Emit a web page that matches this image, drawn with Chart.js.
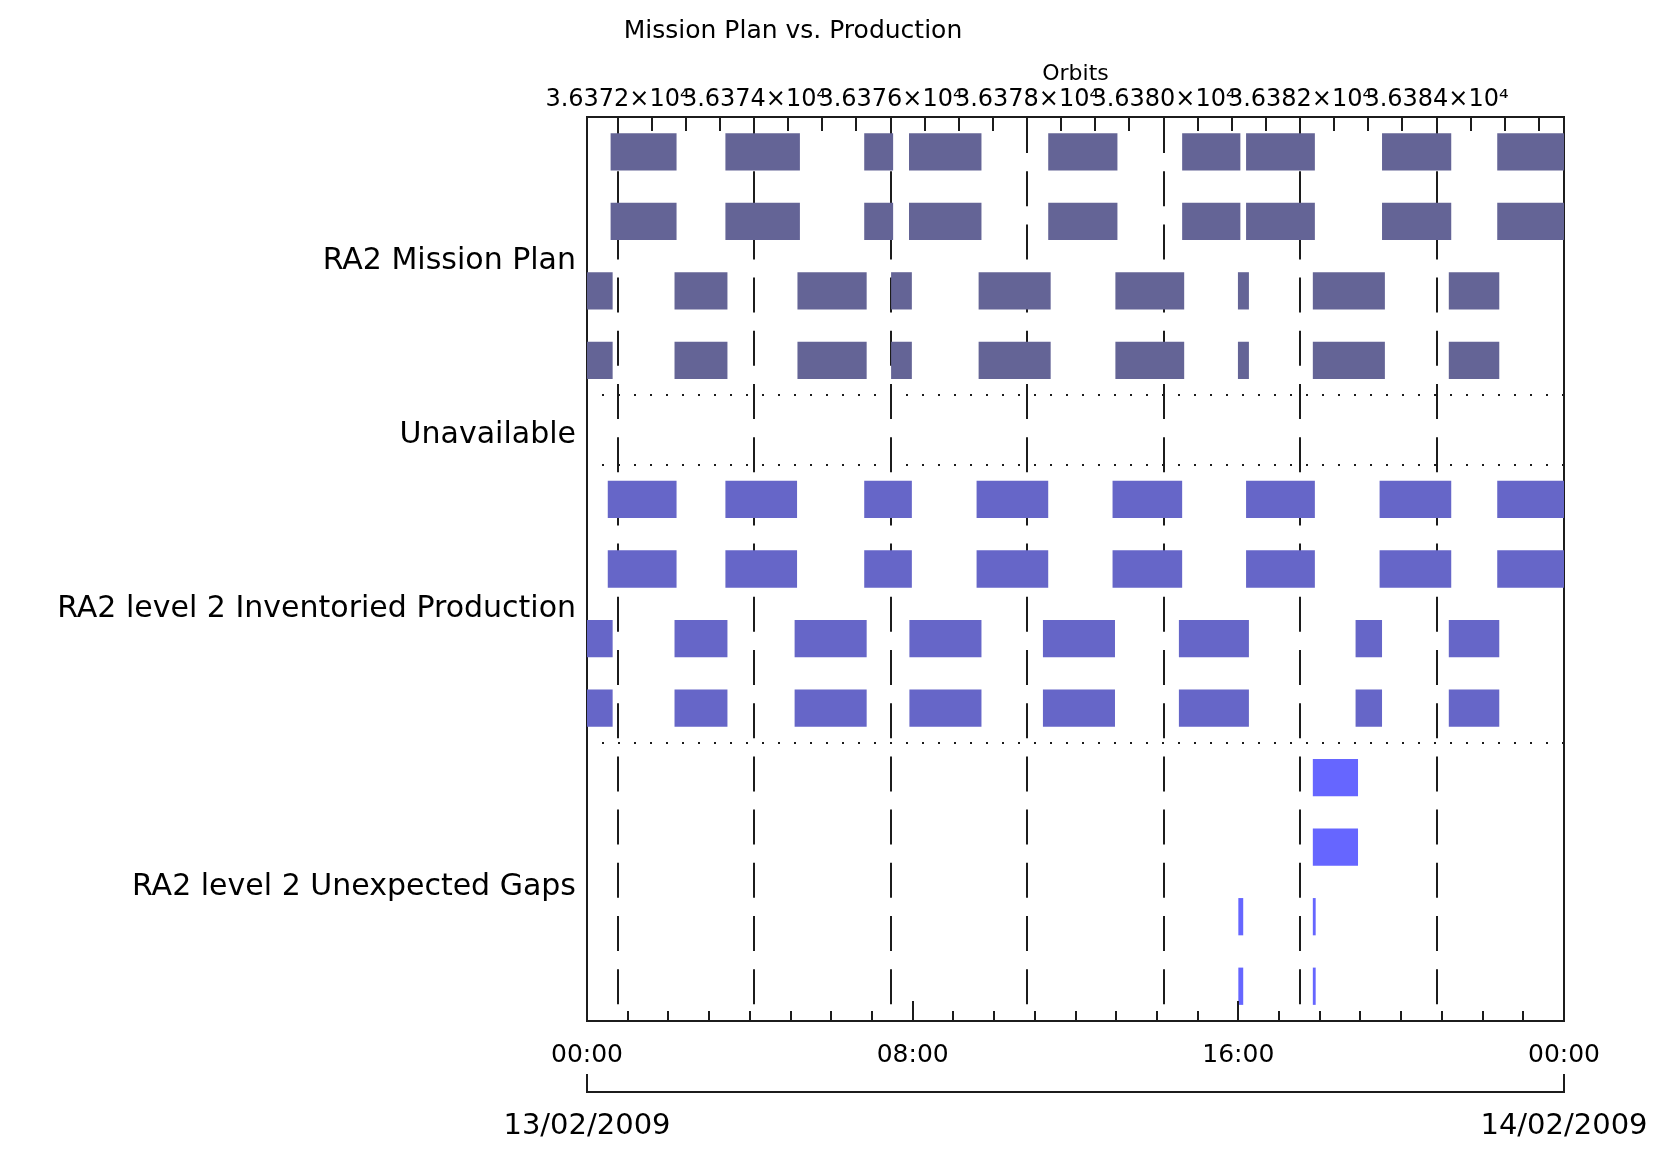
<!DOCTYPE html>
<html>
<head>
<meta charset="utf-8">
<script src="https://cdn.jsdelivr.net/npm/chart.js@4.4.1/dist/chart.umd.min.js"></script>
<style>
  html, body { margin: 0; padding: 0; background: #ffffff; }
  canvas { display: block; }
</style>
</head>
<body>
<canvas id="c" width="1669" height="1157"></canvas>
<script>
// ---------------- data (times in decimal hours of 13/02/2009) ----------------
const chartTitle = 'Mission Plan vs. Production';

const groupLabels    = ['RA2 Mission Plan', 'Unavailable', 'RA2 level 2 Inventoried Production', 'RA2 level 2 Unexpected Gaps'];
const groupLabelRows = [1.5, 4, 6.5, 10.5];
const separatorRows  = [3.5, 4.5, 8.5];

// segments [start, end] in hours
const planRowA = [[0.58, 2.20], [3.40, 5.23], [6.81, 7.52], [7.91, 9.69], [11.33, 13.03], [14.62, 16.05], [16.19, 17.88], [19.53, 21.23], [22.36, 24.00]];
const planRowB = [[-0.08, 0.63], [2.15, 3.45], [5.17, 6.87], [7.47, 7.98], [9.62, 11.39], [12.98, 14.67], [15.99, 16.26], [17.83, 19.60], [21.17, 22.41]];
const prodRowA = [[0.51, 2.20], [3.40, 5.16], [6.81, 7.98], [9.57, 11.33], [12.91, 14.62], [16.19, 17.88], [19.47, 21.23], [22.36, 24.00]];
const prodRowB = [[-0.08, 0.63], [2.15, 3.45], [5.10, 6.87], [7.92, 9.69], [11.20, 12.97], [14.54, 16.26], [18.88, 19.53], [21.17, 22.41]];
const gapRowA  = [[17.83, 18.94]];
const gapRowB  = [[16.00, 16.12], [17.83, 17.90]];

const planSeries = [planRowA, planRowA, planRowB, planRowB];
const planRowIdx = [0, 1, 2, 3];
const prodSeries = [prodRowA, prodRowA, prodRowB, prodRowB];
const prodRowIdx = [5, 6, 7, 8];
const gapSeries  = [gapRowA, gapRowA, gapRowB, gapRowB];
const gapRowIdx  = [9, 10, 11, 12];

// time axis
const timeMin = 0, timeMax = 24;
const timeLabelHours = [0, 8, 16, 24];
const timeTickLabels = ['00:00', '08:00', '16:00', '00:00'];
const dateTickHours  = [0, 24];
const dateLabels     = ['13/02/2009', '14/02/2009'];

// orbit axis
const orbitMin = 36371.553, orbitMax = 36385.868;
const orbitLabelValues = [36372, 36374, 36376, 36378, 36380, 36382, 36384];
const orbitTickLabels  = ['3.6372×10⁴', '3.6374×10⁴', '3.6376×10⁴', '3.6378×10⁴', '3.6380×10⁴', '3.6382×10⁴', '3.6384×10⁴'];

// ---------------- tick position lists ----------------
const timeTickHours = [];
for (let h = timeMin; h <= timeMax; h++) timeTickHours.push(h);
const orbitTickValues = [];
for (let o = 36372; o <= 36385.5; o += 0.5) orbitTickValues.push(o);
const rowTickValues = [];
for (let r = 0; r <= 12; r++) rowTickValues.push(r);
const labelAxisTicks = [...groupLabelRows, ...separatorRows].sort((a, b) => a - b);

const toPoints = (series, rowIdx) =>
  series.flatMap((segs, i) => segs.map(([s, e]) => ({ x: [s, e], y: rowIdx[i] })));

// ---------------- styling ----------------
const FONT = 'DejaVu Sans';
const INK = '#1c1c1c';
Chart.defaults.font.family = FONT;
Chart.defaults.color = '#000';

const inwardTicks = {
  id: 'inwardTicks',
  afterDatasetsDraw(chart) {
    const { ctx, chartArea: a, scales } = chart;
    ctx.save();
    ctx.setLineDash([]);
    ctx.strokeStyle = INK;
    ctx.lineWidth = 2;
    const seg = (x, y1, y2) => { ctx.beginPath(); ctx.moveTo(x, y1); ctx.lineTo(x, y2); ctx.stroke(); };
    const x2 = scales.x2;
    for (const v of orbitTickValues) {
      if (orbitLabelValues.includes(v)) continue;
      const px = Math.round(x2.getPixelForValue(v));
      seg(px, a.top, a.top + 14);
    }
    const x = scales.x;
    for (const v of timeTickHours) {
      const px = Math.round(x.getPixelForValue(v));
      seg(px, a.bottom, a.bottom - (timeLabelHours.includes(v) ? 20 : 10));
    }
    const x3 = scales.x3;
    for (const v of dateTickHours) {
      const px = Math.round(x3.getPixelForValue(v));
      seg(px, x3.top, x3.top - 18);
    }
    ctx.restore();
  }
};

const titleText = {
  id: 'titleText',
  afterDraw(chart) {
    const ctx = chart.ctx;
    ctx.save();
    ctx.font = '25px "' + FONT + '"';
    ctx.fillStyle = '#000';
    ctx.textAlign = 'center';
    ctx.textBaseline = 'middle';
    ctx.fillText(chartTitle, 793, 31);
    ctx.restore();
  }
};

const barCommon = { grouped: false, barPercentage: 0.67, categoryPercentage: 0.8, borderWidth: 0 };

new Chart(document.getElementById('c'), {
  type: 'bar',
  data: {
    datasets: [
      Object.assign({ label: groupLabels[0], data: toPoints(planSeries, planRowIdx), backgroundColor: '#646496' }, barCommon),
      Object.assign({ label: groupLabels[2], data: toPoints(prodSeries, prodRowIdx), backgroundColor: '#6666c8' }, barCommon),
      Object.assign({ label: groupLabels[3], data: toPoints(gapSeries, gapRowIdx), backgroundColor: '#6666ff' }, barCommon)
    ]
  },
  options: {
    responsive: false,
    animation: false,
    devicePixelRatio: 1,
    indexAxis: 'y',
    layout: { padding: 0 },
    plugins: { legend: { display: false }, tooltip: { enabled: false }, title: { display: false } },
    scales: {
      x: {
        type: 'linear', position: 'bottom', min: timeMin, max: timeMax, weight: 0, offset: false,
        afterBuildTicks: s => { s.ticks = timeTickHours.map(v => ({ value: v })); },
        afterFit: s => { s.height = 71; },
        ticks: {
          autoSkip: false, maxRotation: 0, minRotation: 0, padding: 19, font: { size: 25 },
          callback: v => { const i = timeLabelHours.indexOf(v); return i >= 0 ? timeTickLabels[i] : ''; }
        },
        grid: { drawOnChartArea: false, drawTicks: false, offset: false },
        border: { display: true, color: INK, width: 2 }
      },
      x3: {
        type: 'linear', position: 'bottom', min: timeMin, max: timeMax, weight: 1, offset: false,
        afterBuildTicks: s => { s.ticks = dateTickHours.map(v => ({ value: v })); },
        afterFit: s => { s.height = 65; },
        ticks: {
          autoSkip: false, maxRotation: 0, minRotation: 0, padding: 17, font: { size: 29 },
          callback: v => { const i = dateTickHours.indexOf(v); return i >= 0 ? dateLabels[i] : ''; }
        },
        grid: { drawOnChartArea: false, drawTicks: false, offset: false },
        border: { display: true, color: INK, width: 2 }
      },
      x2: {
        type: 'linear', position: 'top', min: orbitMin, max: orbitMax, offset: false,
        afterBuildTicks: s => { s.ticks = orbitTickValues.map(v => ({ value: v })); },
        afterFit: s => { s.height = 117; },
        title: { display: true, text: 'Orbits', font: { size: 22 }, padding: { top: 61, bottom: 0 } },
        ticks: {
          autoSkip: false, maxRotation: 0, minRotation: 0, padding: 3, font: { size: 24 },
          callback: v => { const i = orbitLabelValues.indexOf(v); return i >= 0 ? orbitTickLabels[i] : ''; }
        },
        grid: {
          drawOnChartArea: true, drawTicks: false, lineWidth: 2, offset: false,
          color: c => (c.tick && orbitLabelValues.includes(c.tick.value)) ? INK : 'rgba(0,0,0,0)'
        },
        border: { display: true, color: INK, width: 2, dash: [35, 18.2], dashOffset: 0 }
      },
      y: {
        type: 'linear', display: false, min: -0.5, max: 12.5, reverse: true, offset: false,
        grid: { offset: false },
        afterBuildTicks: s => { s.ticks = rowTickValues.map(v => ({ value: v })); }
      },
      yl: {
        type: 'linear', position: 'left', min: -0.5, max: 12.5, reverse: true, offset: false,
        afterBuildTicks: s => { s.ticks = labelAxisTicks.map(v => ({ value: v })); },
        afterFit: s => { s.width = 587; },
        ticks: {
          autoSkip: false, padding: 11, labelOffset: 5, font: { size: 30 },
          callback: v => { const i = groupLabelRows.indexOf(v); return i >= 0 ? groupLabels[i] : ''; }
        },
        grid: {
          drawTicks: false, lineWidth: 2, offset: false,
          color: c => (c.tick && separatorRows.includes(c.tick.value)) ? INK : 'rgba(0,0,0,0)'
        },
        border: { display: true, color: INK, width: 2, dash: [2, 14], dashOffset: 2 }
      },
      yr: {
        type: 'linear', position: 'right', min: 0, max: 1, offset: false,
        afterFit: s => { s.width = 105; },
        ticks: { display: false },
        grid: { drawOnChartArea: false, drawTicks: false, offset: false },
        border: { display: true, color: INK, width: 2 }
      }
    }
  },
  plugins: [inwardTicks, titleText]
});
</script>
</body>
</html>
